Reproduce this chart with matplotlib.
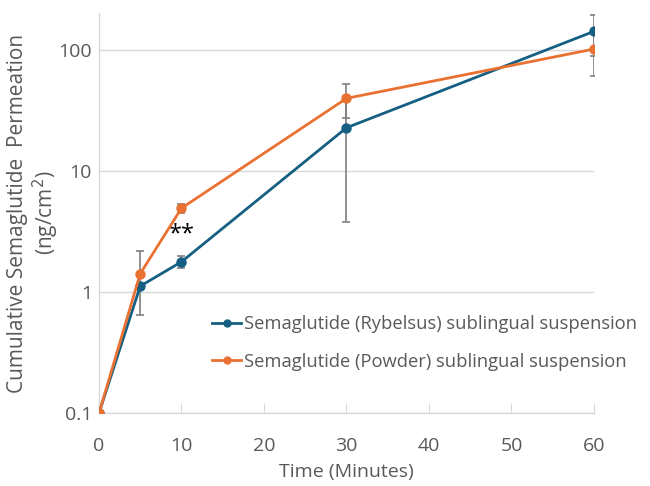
import numpy as np
import matplotlib.pyplot as plt
from matplotlib.lines import Line2D

time_min = [0, 5, 10, 30, 60]

rybelsus = [0.1, 1.12, 1.78, 22.8, 142.7]
rybelsus_err = [0, 0.0, 0.2, 19.0, 53.0]

powder = [0.1, 1.42, 4.94, 39.9, 102.0]
powder_err = [0, 0.77, 0.4, 12.7, 41.0]

labels = ["Semaglutide (Rybelsus) sublingual suspension",
          "Semaglutide (Powder) sublingual suspension"]

blue = "#156082"
orange = "#E97132"
grey_txt = "#595959"
axis_col = "#d9d9d9"

plt.rcParams['font.family'] = ['Open Sans', 'DejaVu Sans']

fig = plt.figure(figsize=(6.5, 4.86), dpi=100)
ax = fig.add_axes([0.1523, 0.150, 0.7615, 0.823])

ax.errorbar(time_min, rybelsus, yerr=rybelsus_err, color=blue, lw=2,
            marker="o", ms=6.5, ecolor="#7f7f7f", elinewidth=1.2,
            capsize=3, capthick=1.2, zorder=3)
ax.errorbar(time_min, powder, yerr=powder_err, color=orange, lw=2,
            marker="o", ms=6.5, ecolor="#7f7f7f", elinewidth=1.2,
            capsize=3, capthick=1.2, zorder=3)

ax.set_yscale("log")
ax.set_ylim(0.1, 202)
ax.set_xlim(0, 60)
ax.set_yticks([0.1, 1, 10, 100])
ax.set_yticklabels(["0.1", "1", "10", "100"])
ax.minorticks_off()
ax.set_xticks(range(0, 61, 10))

ax.grid(axis="y", color=axis_col, lw=1)
ax.set_axisbelow(True)
for s in ["top", "right"]:
    ax.spines[s].set_visible(False)
for s in ["left", "bottom"]:
    ax.spines[s].set_color(axis_col)
    ax.spines[s].set_linewidth(1)
    ax.spines[s].set_zorder(1)

ax.tick_params(axis="x", direction="in", length=7, color=axis_col,
               labelsize=14, labelcolor=grey_txt, pad=17)
ax.tick_params(axis="y", length=0, labelsize=14, labelcolor=grey_txt, pad=5)
for lab in ax.get_xticklabels() + ax.get_yticklabels():
    lab.set_clip_on(False)

ax.set_xlabel("Time (Minutes)", fontsize=14, color=grey_txt, labelpad=6)
ax.set_ylabel("Cumulative Semaglutide  Permeation\n(ng/cm$^2$)", fontsize=15,
              color=grey_txt, linespacing=1.15)
ax.yaxis.set_label_coords(-0.076, 0.5)

ax.text(10, 3.0, "**", fontsize=17, ha="center", va="center", color="black")

handles = [Line2D([], [], color=blue, lw=2, marker="o", ms=5),
           Line2D([], [], color=orange, lw=2, marker="o", ms=5)]
leg = ax.legend(handles, labels, loc="lower left", bbox_to_anchor=(0.195, 0.065),
                frameon=False, fontsize=13.2, labelcolor=grey_txt,
                handlelength=1.6, handletextpad=0.15, labelspacing=1.05)

fig.savefig("out.png", dpi=100)
